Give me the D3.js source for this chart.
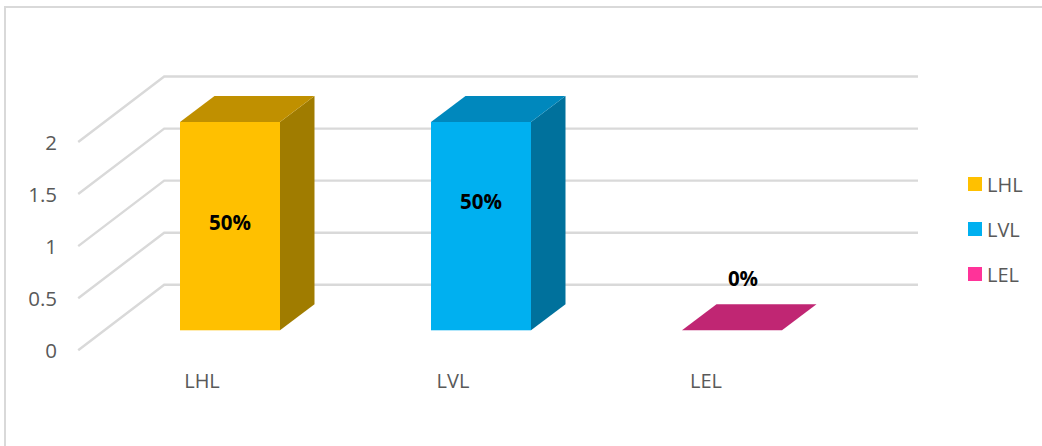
<!DOCTYPE html>
<html><head><meta charset="utf-8">
<script src="https://cdn.jsdelivr.net/npm/d3@7"></script>
<style>html,body{margin:0;padding:0;background:#fff;overflow:hidden}svg{display:block}text{font-family:"Open Sans",sans-serif}</style>
</head><body><svg id="c" width="1042" height="446"></svg>
<script>
const categories = ["LHL","LVL","LEL"];
const values = [2,2,0];
const dataLabels = ["50%","50%","0%"];
const tickValues = [0,0.5,1,1.5,2];
const tickLabels = ["0","0.5","1","1.5","2"];
const frontColors = ["#ffc000","#00b0f0","#ff3399"];
const topColors = ["#c09000","#0088bd","#c02673"];
const sideColors = ["#a07c00","#00719c","#c02673"];

const W=1042,H=446;
const svg=d3.select("#c");
const x=d3.scaleBand().domain(categories).range([104.5,857.5]).paddingInner(0.6016).paddingOuter(0.3008);
const y=d3.scaleLinear().domain([0,2]).range([330.3,122]);
const dx=34.5,dy=-26;         // bar depth
const wallDx=86,wallDy=-45.5; // from the bar front plane to the back wall
const wallLeft=78.2,wallRight=918;
const grid="#d9d9d9";

// frame
svg.append("path").attr("d",`M5,${H}V7H${W}`).attr("fill","none").attr("stroke",grid).attr("stroke-width",2);

// gridlines
svg.append("g").selectAll("path").data(tickValues).join("path")
  .attr("d",v=>{const yb=y(v)+wallDy;return `M${wallLeft},${yb+65.5}L${wallLeft+wallDx},${yb}H${wallRight}`;})
  .attr("fill","none").attr("stroke",grid).attr("stroke-width",2.4);

// y axis labels
svg.append("g").selectAll("text").data(tickValues).join("text")
  .attr("x",57).attr("y",v=>y(v)+28).attr("text-anchor","end")
  .attr("font-size",20.5).attr("fill","#595959")
  .text((v,i)=>tickLabels[i]);

// bars
const bars=svg.append("g").selectAll("g").data(categories).join("g");
const L=c=>x(c), R=c=>x(c)+x.bandwidth();
const Y=(c,i)=>y(values[i]);
bars.append("path")
  .attr("d",(c,i)=>`M${R(c)},${Y(c,i)}L${R(c)+dx},${Y(c,i)+dy}V${y(0)+dy}L${R(c)},${y(0)}Z`)
  .attr("fill",(c,i)=>sideColors[i]);
bars.append("rect").attr("x",L).attr("y",Y).attr("width",x.bandwidth()).attr("height",(c,i)=>y(0)-Y(c,i))
  .attr("fill",(c,i)=>frontColors[i]);
bars.append("path").attr("d",(c,i)=>`M${L(c)},${Y(c,i)}L${L(c)+dx},${Y(c,i)+dy}H${R(c)+dx}L${R(c)},${Y(c,i)}Z`)
  .attr("fill",(c,i)=>topColors[i]);

// data labels
const labelOffsets=[[0,230],[0,209],[11,286]];
svg.append("g").selectAll("text").data(categories).join("text")
  .attr("x",c=>x(c)+x.bandwidth()/2)
  .attr("y",(c,i)=>labelOffsets[i][1])
  .attr("dx",(c,i)=>labelOffsets[i][0])
  .attr("text-anchor","middle").attr("font-size",20.5).attr("font-weight",700).attr("fill","#000")
  .text((c,i)=>dataLabels[i]);

// category labels
svg.append("g").selectAll("text").data(categories).join("text")
  .attr("x",(c,i)=>x(c)+x.bandwidth()/2-[28,28,26][i]).attr("y",388)
  .attr("text-anchor","middle").attr("font-size",20).attr("fill","#595959")
  .text(c=>c);

// legend
const lg=svg.append("g").selectAll("g").data(categories).join("g")
  .attr("transform",(c,i)=>`translate(968,${177+i*45})`);
lg.append("rect").attr("width",14).attr("height",14).attr("fill",(c,i)=>frontColors[i]);
lg.append("text").attr("x",19).attr("y",14.5).attr("font-size",20).attr("fill","#595959").text(c=>c);
</script></body></html>
